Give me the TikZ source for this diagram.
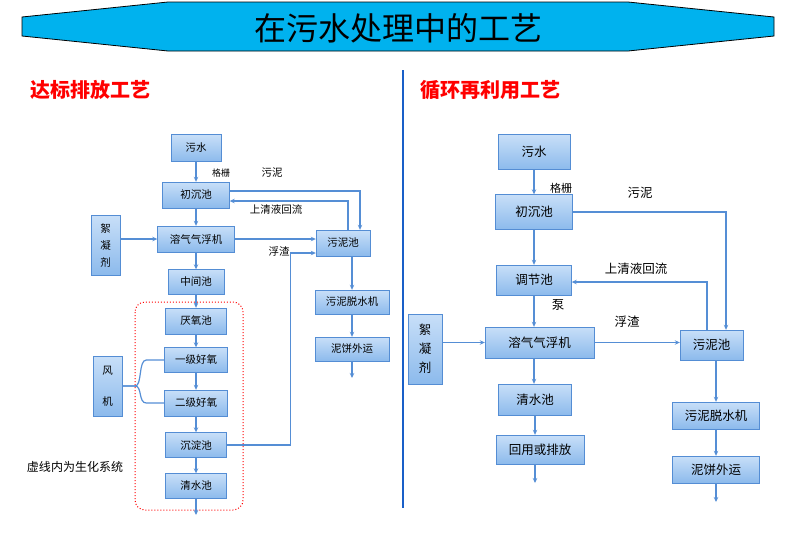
\documentclass[tikz,border=0pt]{standalone}
\usepackage{fontspec}
\newfontfamily\cjk{Noto Sans CJK SC}
\usetikzlibrary{arrows.meta,calc}
\definecolor{boxline}{RGB}{84,141,212}
\definecolor{boxtop}{RGB}{200,223,248}
\definecolor{boxbot}{RGB}{140,186,236}
\definecolor{pipeblue}{RGB}{85,142,213}
\definecolor{banner}{RGB}{0,178,238}
\definecolor{divider}{RGB}{25,95,200}

\begin{document}
\begin{tikzpicture}[x=1pt,y=-1pt,
    process/.style ={rectangle, draw=boxline, top color=boxtop, bottom color=boxbot,
      inner sep=0pt, font=\cjk\fontsize{10.5}{12}\selectfont},
    bigprocess/.style ={process, font=\cjk\fontsize{12.5}{14}\selectfont},
    feed/.style ={draw=pipeblue, line width=1.2pt, -{Stealth[length=5pt,width=4.5pt]}},
    feedline/.style ={draw=pipeblue, line width=1.2pt},
    note/.style ={font=\cjk\fontsize{10.5}{12}\selectfont},
    bignote/.style ={font=\cjk\fontsize{12.5}{14}\selectfont},
    heading/.style ={font=\cjk\bfseries\fontsize{20}{22}\selectfont, red}]
   \useasboundingbox (0,0) rectangle (800,547);

   % banner
   \draw[fill=banner, line width=0.8pt] (22,17) -- (168,2) -- (628,2) -- (774,17)
      -- (774,36) -- (628,51) -- (168,51) -- (22,36) -- cycle;
   \node[font=\cjk\fontsize{32}{35}\selectfont] (title) at (398,28) {在污水处理中的工艺};
   \draw[divider, line width=2pt] (403,70) -- (403,508);
   \node[heading] (h1) at (90,90) {达标排放工艺};
   \node[heading] (h2) at (490,90) {循环再利用工艺};

   % left process
   \node[process, minimum width=50, minimum height=27] (A) at (196,148) {污水};
   \node[process, minimum width=67, minimum height=26] (B) at (196,195) {初沉池};
   \node[process, minimum width=77, minimum height=26] (C) at (196,239) {溶气气浮机};
   \node[process, minimum width=56, minimum height=25] (D) at (196,282) {中间池};
   \node[process, minimum width=61, minimum height=26] (E) at (196,321) {厌氧池};
   \node[process, minimum width=63, minimum height=25] (F) at (196,360) {一级好氧};
   \node[process, minimum width=63, minimum height=26] (G) at (196,403) {二级好氧};
   \node[process, minimum width=61, minimum height=25] (H) at (196,445) {沉淀池};
   \node[process, minimum width=61, minimum height=25] (I) at (196,486) {清水池};
   \node[process, minimum width=29, minimum height=60, align=center,
      font=\cjk\fontsize{10.5}{17}\selectfont] (J) at (105.5,245) {絮\\凝\\剂};
   \node[process, minimum width=29, minimum height=60, align=center,
      font=\cjk\fontsize{10.5}{31}\selectfont] (K) at (107.5,386) {风\\机};
   \node[process, minimum width=54, minimum height=26] (L) at (343,243) {污泥池};
   \node[process, minimum width=74, minimum height=24] (M) at (352,302) {污泥脱水机};
   \node[process, minimum width=74, minimum height=24] (N) at (352,349) {泥饼外运};
   \coordinate (i1) at (196,515);
   \coordinate (n1) at (352,378);

   \draw[red, dotted, line width=1pt, rounded corners=10pt] (135,302) rectangle (243,510);

   \draw[feed] (A) to (B);
   \draw[feed] (B) to (C);
   \draw[feed] (C) to (D);
   \draw[feed] (D) to (E);
   \draw[feed] (E) to (F);
   \draw[feed] (F) to (G);
   \draw[feed] (G) to (H);
   \draw[feed] (H) to (I);
   \draw[feed] (I) to (i1);
   \draw[feed] (J.east |- C.west) to (C.west);
   \draw[feed] (C.east) to (C.east -| L.west);
   \draw[feed] ([yshift=4pt]B.east) -| ([xshift=17pt]L.north);
   \draw[feed] ([xshift=5pt]L.north) |- ([yshift=-6pt]B.east);
   \draw[feed] (H.east) -- ++(64,0) |- ([yshift=-10pt]L.west);
   \draw[feed] (M.north |- L.south) to (M.north);
   \draw[feed] (M) to (N);
   \draw[feed] (N) to (n1);
   \draw[feedline] (K.east) -- ++(13,0) .. controls +(7,0) and +(-8,0) .. ($(F.west)+(-18,0)$) -- (F.west);
   \draw[feedline] (K.east) -- ++(13,0) .. controls +(7,0) and +(-8,0) .. ($(G.west)+(-18,0)$) -- (G.west);

   \node[note, font=\cjk\fontsize{9}{11}\selectfont] (l1) at (221,173) {格栅};
   \node[note] (l2) at (272,173) {污泥};
   \node[note] (l3) at (276,209) {上清液回流};
   \node[note] (l4) at (279,251) {浮渣};
   \node[font=\cjk\fontsize{12}{14}\selectfont] (l5) at (75,467) {虚线内为生化系统};

   % right process
   \node[bigprocess, minimum width=72, minimum height=35] (O) at (534,152) {污水};
   \node[bigprocess, minimum width=77, minimum height=35] (P) at (534,212) {初沉池};
   \node[bigprocess, minimum width=75, minimum height=30] (Q) at (534,280) {调节池};
   \node[bigprocess, minimum width=109, minimum height=31] (R) at (539.5,342.5) {溶气气浮机};
   \node[bigprocess, minimum width=73, minimum height=31] (S) at (535,399.5) {清水池};
   \node[bigprocess, minimum width=88, minimum height=29] (T) at (540,449.5) {回用或排放};
   \node[bigprocess, minimum width=34, minimum height=70, align=center,
      font=\cjk\fontsize{12.5}{19}\selectfont] (U) at (425,349) {絮\\凝\\剂};
   \node[bigprocess, minimum width=63, minimum height=30] (V) at (711.5,345) {污泥池};
   \node[bigprocess, minimum width=87, minimum height=27] (W) at (716,415.5) {污泥脱水机};
   \node[bigprocess, minimum width=87, minimum height=27] (X) at (716,469.5) {泥饼外运};
   \coordinate (t1) at (535,483);
   \coordinate (x1) at (716,502);

   \draw[feed] (O) to (P);
   \draw[feed] (P) to (Q);
   \draw[feed] (Q.south) to (Q.south |- R.north);
   \draw[feed] (Q.south |- R.south) to (Q.south |- S.north);
   \draw[feed] (S.south) to (S.south |- T.north);
   \draw[feed] (S.south |- T.south) to (t1);
   \draw[feed] (U.east |- R.west) to (R.west);
   \draw[feed] (R.east) to (R.east -| V.west);
   \draw[feed] (P.east) -| ([xshift=14.5pt]V.north);
   \draw[feed] ([xshift=-4.5pt]V.north) |- ([yshift=-2pt]Q.east);
   \draw[feed] (W.north |- V.south) to (W.north);
   \draw[feed] (W) to (X);
   \draw[feed] (X) to (x1);

   \node[note, font=\cjk\fontsize{11}{13}\selectfont] (r1) at (561,188) {格栅};
   \node[bignote] (r2) at (640,193) {污泥};
   \node[bignote] (r3) at (636,269) {上清液回流};
   \node[bignote] (r4) at (558,305) {泵};
   \node[bignote] (r5) at (627,322) {浮渣};
 \end{tikzpicture}
\end{document}
